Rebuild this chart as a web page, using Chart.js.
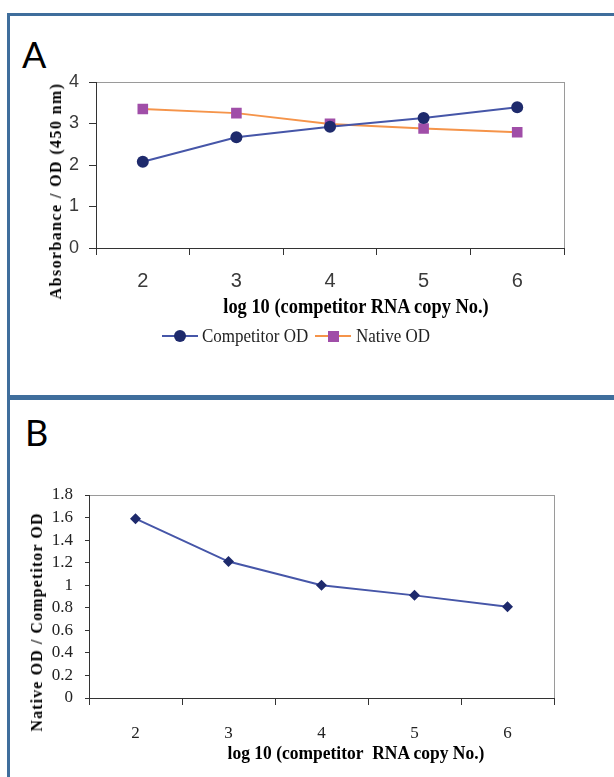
<!DOCTYPE html>
<html>
<head>
<meta charset="utf-8">
<script src="https://cdn.jsdelivr.net/npm/chart.js@4.4.0/dist/chart.umd.min.js"></script>
<style>
  body { margin: 0; background: #fff; }
  #page { position: relative; width: 614px; height: 777px; overflow: hidden; background: #fff; }
  .rule { position: absolute; background: #3f6e9c; }
  .abs { position: absolute; white-space: nowrap; color: #000; }
  .letter { font-family: Lato, 'Liberation Sans', sans-serif; font-size: 36px; line-height: 1; }
  .xtitle { font-family: 'Liberation Serif', serif; font-weight: bold; font-size: 20px; transform: translate(-50%, -50%) scaleX(0.92); }
  .ytitle { font-family: 'Liberation Serif', serif; font-weight: bold; transform: translate(-50%, -50%) rotate(-90deg); }
  .legtext { font-family: 'Liberation Serif', serif; font-size: 17px; color: #222; transform: translateY(-50%) scaleY(1.15); }
  canvas { position: absolute; left: 0; }
</style>
</head>
<body>
<div id="page">
  <div class="rule" style="left:7px;top:13px;width:607px;height:3px"></div>
  <div class="rule" style="left:7px;top:13px;width:3px;height:764px"></div>
  <div class="rule" style="left:7px;top:395px;width:607px;height:5px"></div>

  <div class="abs letter" style="left:22px;top:36px">A</div>
  <div class="abs letter" style="left:25px;top:414px">B</div>

  <canvas id="chartA" width="614" height="300" style="top:0"></canvas>
  <canvas id="chartB" width="614" height="377" style="top:400px"></canvas>

  <div class="abs ytitle" style="left:56px;top:191px;font-size:16px;letter-spacing:1.4px">Absorbance / OD (450 nm)</div>
  <div class="abs xtitle" style="left:356px;top:306px">log 10 (competitor RNA copy No.)</div>

  <div class="abs" id="legA" style="left:0;top:0"></div>

  <div class="abs ytitle" style="left:37px;top:622px;font-size:16px;letter-spacing:1.1px">Native OD / Competitor OD</div>
  <div class="abs xtitle" style="left:356px;top:753px;font-size:19px">log 10 (competitor&nbsp; RNA copy No.)</div>
</div>

<script>
// data
const categories = ["2", "3", "4", "5", "6"];
const competitorOD = [2.08, 2.67, 2.92, 3.13, 3.39];
const nativeOD = [3.35, 3.25, 2.99, 2.88, 2.79];
const ratioNativeCompetitor = [1.59, 1.21, 1.0, 0.91, 0.81];
const yTicksA = [0, 4, 1];     // min, max, step
const yTicksB = [0, 1.8, 0.2];

const sans = "'Liberation Sans', Arial, sans-serif";
const serif = "'Liberation Serif', serif";

// grey box round the plot area, axes are drawn over it
const plotBox = {
  id: "plotBox",
  beforeDraw(chart) {
    const { ctx, chartArea: a } = chart;
    ctx.save();
    ctx.strokeStyle = "#9a9a9a";
    ctx.lineWidth = 1;
    ctx.strokeRect(Math.round(a.left) + 0.5, Math.round(a.top) + 0.5, Math.round(a.width), Math.round(a.height));
    ctx.restore();
  },
};

function axes(yRange, o) {
  return {
    x: {
      type: "category",
      offset: true,
      grid: { offset: true, drawOnChartArea: false, tickLength: 7, color: "#333" },
      border: { color: "#333", width: 1 },
      ticks: { color: o.tickColor, font: o.xFont, padding: o.xPad, maxRotation: 0 },
      afterFit: (s) => { s.height = o.xHeight; },
    },
    y: {
      min: yRange[0],
      max: yRange[1],
      grid: { drawOnChartArea: false, tickLength: o.yTick, color: "#333" },
      border: { color: "#333", width: 1 },
      ticks: {
        stepSize: yRange[2],
        autoSkip: false,
        color: o.tickColor,
        font: o.yFont,
        padding: o.yPad,
        callback: (v) => String(Math.round(v * 10) / 10),
      },
      afterFit: (s) => { s.width = 60; },
    },
  };
}

const chartA = new Chart(document.getElementById("chartA").getContext("2d"), {
  type: "line",
  data: {
    labels: categories,
    datasets: [
      {
        label: "Competitor OD",
        data: competitorOD,
        borderColor: "#4656a8",
        borderWidth: 2,
        pointStyle: "circle",
        pointRadius: 6,
        pointBackgroundColor: "#1e2a6c",
        pointBorderColor: "#1e2a6c",
        pointBorderWidth: 0,
      },
      {
        label: "Native OD",
        data: nativeOD,
        borderColor: "#f5944a",
        borderWidth: 2,
        pointStyle: "rect",
        pointRadius: 7.5,
        pointBackgroundColor: "#a04ea8",
        pointBorderColor: "#a04ea8",
        pointBorderWidth: 0,
      },
    ],
  },
  options: {
    responsive: false,
    animation: false,
    layout: { padding: { left: 36, top: 82, right: 50, bottom: 0 } },
    plugins: { legend: { display: false }, tooltip: { enabled: false } },
    scales: axes(yTicksA, {
      tickColor: "#3a3a3a",
      xFont: { family: sans, size: 20 },
      yFont: { family: sans, size: 18 },
      xPad: 14, yPad: 10, yTick: 7, xHeight: 52,
    }),
  },
  plugins: [plotBox],
});

const chartB = new Chart(document.getElementById("chartB").getContext("2d"), {
  type: "line",
  data: {
    labels: categories,
    datasets: [
      {
        label: "Native OD / Competitor OD",
        data: ratioNativeCompetitor,
        borderColor: "#4656a8",
        borderWidth: 2,
        pointStyle: "rectRot",
        pointRadius: 5.5,
        pointBackgroundColor: "#1e2a6c",
        pointBorderColor: "#1e2a6c",
        pointBorderWidth: 0,
      },
    ],
  },
  options: {
    responsive: false,
    animation: false,
    layout: { padding: { left: 29, top: 95, right: 60, bottom: 0 } },
    plugins: { legend: { display: false }, tooltip: { enabled: false } },
    scales: axes(yTicksB, {
      tickColor: "#222",
      xFont: { family: serif, size: 17 },
      yFont: { family: serif, size: 17 },
      xPad: 18, yPad: 12, yTick: 4, xHeight: 79,
    }),
  },
  plugins: [plotBox],
});

// legend for panel A: line with the marker in the middle, then the name
const legendSpots = [
  { x: 162, textX: 202 },
  { x: 315, textX: 356 },
];
const legA = document.getElementById("legA");
chartA.data.datasets.forEach((ds, i) => {
  const spot = legendSpots[i];
  const y = 336;
  const line = document.createElement("div");
  line.className = "abs";
  line.style.cssText = `left:${spot.x}px;top:${y - 1}px;width:36px;height:2px;background:${ds.borderColor}`;
  legA.appendChild(line);
  const mark = document.createElement("div");
  mark.className = "abs";
  const s = ds.pointStyle === "circle" ? 12 : 11;
  mark.style.cssText = `left:${spot.x + 18 - s / 2}px;top:${y - s / 2}px;width:${s}px;height:${s}px;background:${ds.pointBackgroundColor};border-radius:${ds.pointStyle === "circle" ? "50%" : "0"}`;
  legA.appendChild(mark);
  const txt = document.createElement("div");
  txt.className = "abs legtext";
  txt.style.left = spot.textX + "px";
  txt.style.top = y + "px";
  txt.textContent = ds.label;
  legA.appendChild(txt);
});
</script>
</body>
</html>
